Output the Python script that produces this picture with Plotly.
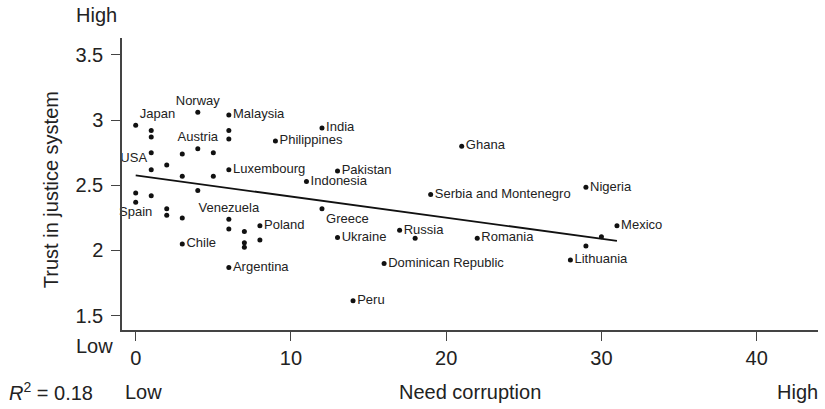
import numpy as np
import plotly.graph_objects as go

# Need for corruption (x) vs. trust in the justice system (y), one point per country
need_corruption = [0, 1, 1, 4, 6, 6, 6, 9, 12, 4, 5, 3, 1, 2, 1, 6, 3, 5, 13, 11,
                   4, 0, 0, 1, 2, 2, 3, 6, 6, 7, 8, 8, 7, 7, 3, 6, 12, 13, 21, 19,
                   17, 18, 22, 16, 14, 29, 31, 30, 29, 28]
trust_justice = [2.96, 2.92, 2.87, 3.06, 3.04, 2.92, 2.855, 2.84, 2.94, 2.78,
                 2.75, 2.74, 2.75, 2.655, 2.62, 2.62, 2.57, 2.57, 2.61, 2.53,
                 2.46, 2.44, 2.37, 2.42, 2.32, 2.27, 2.25, 2.24, 2.165, 2.145,
                 2.19, 2.08, 2.06, 2.025, 2.05, 1.87, 2.32, 2.10, 2.80, 2.43,
                 2.155, 2.094, 2.094, 1.90, 1.615, 2.485, 2.19, 2.106, 2.035, 1.927]
countries = ["Japan", "", "", "Norway", "Malaysia", "", "", "Philippines", "India", "Austria",
             "", "", "", "", "USA", "Luxembourg", "", "", "Pakistan", "Indonesia",
             "", "", "Spain", "", "", "", "", "Venezuela", "", "",
             "Poland", "", "", "", "Chile", "Argentina", "Greece", "Ukraine", "Ghana",
             "Serbia and Montenegro", "Russia", "", "Romania", "Dominican Republic", "Peru",
             "Nigeria", "Mexico", "", "", "Lithuania"]
x_ticks = [0, 10, 20, 30, 40]
y_ticks = [1.5, 2, 2.5, 3, 3.5]
r_squared_text = "0.18"

# label placement around each named dot
label_side = {"Japan": "top right", "Norway": "top center", "Austria": "top center",
              "USA": "top left", "Spain": "bottom center", "Venezuela": "top center",
              "Greece": "bottom right"}
named = [i for i, c in enumerate(countries) if c]
lab_x = [need_corruption[i] for i in named]
lab_y = [trust_justice[i] for i in named]
lab_text = [countries[i] for i in named]
lab_pos = [label_side.get(countries[i], "middle right") for i in named]

# least-squares trend line
slope, intercept = np.polyfit(need_corruption, trust_justice, 1)
x_line = np.array([min(need_corruption), max(need_corruption)])
y_line = intercept + slope * x_line

FONT = "Liberation Sans, Arial, Helvetica, sans-serif"
INK = "#222222"
AXIS = "#444444"

fig = go.Figure()
fig.add_trace(go.Scatter(
    x=x_line, y=y_line, mode="lines",
    line=dict(color="#111111", width=1.8), hoverinfo="skip", showlegend=False))
fig.add_trace(go.Scatter(
    x=need_corruption, y=trust_justice, mode="markers",
    marker=dict(color="#111111", size=5), showlegend=False))
# country names, offset from the dots by an invisible marker of the same size
fig.add_trace(go.Scatter(
    x=lab_x, y=lab_y, mode="markers+text", text=lab_text, textposition=lab_pos,
    marker=dict(color="rgba(0,0,0,0)", size=5),
    textfont=dict(family=FONT, size=13, color=INK),
    cliponaxis=False, hoverinfo="skip", showlegend=False))

axis_common = dict(showline=True, linecolor=AXIS, linewidth=1.5, mirror=False,
                   showgrid=False, zeroline=False, ticks="outside", ticklen=9,
                   tickwidth=1.2, tickcolor=AXIS,
                   tickfont=dict(family=FONT, size=20, color=INK))

fig.update_layout(
    width=825, height=409,
    margin=dict(l=122, r=7, t=38, b=79),
    paper_bgcolor="white", plot_bgcolor="white",
    xaxis=dict(range=[-0.882, 43.95], tickvals=x_ticks,
               ticktext=[str(v) for v in x_ticks], **axis_common),
    yaxis=dict(range=[1.390, 3.630], tickvals=y_ticks,
               ticktext=["1.5", "2", "2.5", "3", "3.5"], ticklabelstandoff=4,
               **axis_common),
    font=dict(family=FONT, color=INK),
)

ann_font = dict(family=FONT, size=20, color=INK)
annotations = [
    dict(text="High", x=-0.0366, y=1.0788, xanchor="center", yanchor="middle"),
    dict(text="Low", x=-0.0402, y=-0.0548, xanchor="center", yanchor="middle"),
    dict(text="<i>R</i><sup>2</sup> = " + r_squared_text, x=-0.1652, y=-0.2123,
         xanchor="left", yanchor="middle"),
    dict(text="Low", x=0.0302, y=-0.2123, xanchor="center", yanchor="middle"),
    dict(text="Need corruption", x=0.5, y=-0.2123, xanchor="center", yanchor="middle"),
    dict(text="High", x=1.0029, y=-0.2123, xanchor="right", yanchor="middle"),
    dict(text="Trust in justice system", x=-0.102, y=0.479, textangle=-90,
         xanchor="center", yanchor="middle"),
]
for a in annotations:
    fig.add_annotation(xref="paper", yref="paper", showarrow=False, font=ann_font, **a)

fig.write_html("out.html")
